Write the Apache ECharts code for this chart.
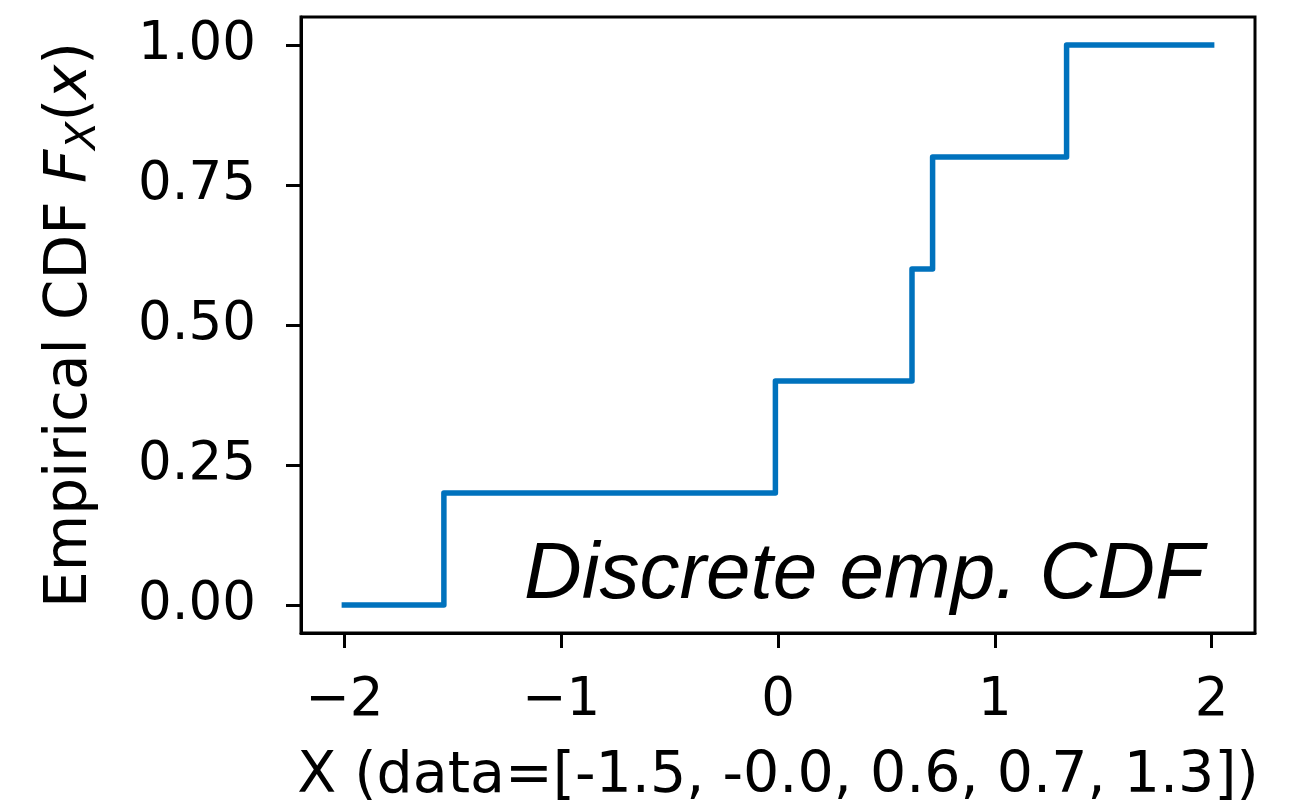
<!DOCTYPE html>
<html>
<head>
<meta charset="utf-8">
<style>
  html, body { margin: 0; padding: 0; background: #fff; }
  #chart { width: 1296px; height: 811px; }
</style>
<script src="https://cdn.jsdelivr.net/npm/echarts@6/dist/echarts.min.js"></script>
</head>
<body>
<div id="chart"></div>
<script>
// Sample points (sorted) and the cumulative fraction reached at each one
const samples = [-1.541, -0.012, 0.618, 0.713, 1.331];
const cdfLevels = [0.2, 0.4, 0.6, 0.8, 1.0];
// Range the step curve is drawn over
const xStart = -2;
const xEnd = 2;
const xTicks = [-2, -1, 0, 1, 2];
const yTicks = [0, 0.25, 0.5, 0.75, 1.0];
const xLabelText = 'X (data=[-1.5, -0.0, 0.6, 0.7, 1.3])';
const noteText = 'Discrete emp. CDF';

// Step points: start at 0, jump at each sample, hold the last level to the end
const stepData = [[xStart, 0]];
samples.forEach((s, i) => stepData.push([s, cdfLevels[i]]));
stepData.push([xEnd, cdfLevels[cdfLevels.length - 1]]);

const FONT = 'DejaVu Sans';
const chart = echarts.init(document.getElementById('chart'), null, { renderer: 'canvas' });

chart.setOption({
  animation: false,
  backgroundColor: '#ffffff',
  grid: {
    left: 301, top: 17, right: 41, bottom: 177,
    show: true, borderColor: '#000', borderWidth: 3, backgroundColor: 'transparent'
  },
  xAxis: {
    type: 'value', min: -2.2, max: 2.2,
    axisLine: { onZero: false, lineStyle: { color: '#000', width: 3 } },
    axisTick: { customValues: xTicks, length: 15, lineStyle: { color: '#000', width: 3 } },
    axisLabel: {
      customValues: xTicks, margin: 42, color: '#000', fontFamily: FONT, fontSize: 53,
      formatter: v => String(v).replace('-', '\u2212')
    },
    splitLine: { show: false },
    name: xLabelText, nameLocation: 'middle', nameGap: 116,
    nameTextStyle: { color: '#000', fontFamily: FONT, fontSize: 57 }
  },
  yAxis: {
    type: 'value', min: -0.05, max: 1.05,
    axisLine: { onZero: false, lineStyle: { color: '#000', width: 3 } },
    axisTick: { customValues: yTicks, length: 15, lineStyle: { color: '#000', width: 3 } },
    axisLabel: {
      customValues: yTicks, margin: 45, color: '#000', fontFamily: FONT, fontSize: 53,
      formatter: v => v.toFixed(2)
    },
    splitLine: { show: false },
    name: '{a|Empirical CDF }{i|F}{s|X}{a|(}{i|x}{a|)}',
    nameLocation: 'middle', nameGap: 196, nameRotate: 90,
    nameTextStyle: {
      color: '#000', fontFamily: FONT, fontSize: 58,
      rich: {
        a: { fontFamily: FONT, fontSize: 58, color: '#000', lineHeight: 68 },
        i: { fontFamily: FONT, fontSize: 58, fontStyle: 'italic', color: '#000', lineHeight: 68 },
        s: { fontFamily: FONT, fontSize: 41, fontStyle: 'italic', color: '#000', lineHeight: 41, verticalAlign: 'bottom' }
      }
    }
  },
  series: [{
    type: 'line',
    step: 'end',
    data: stepData,
    showSymbol: false,
    lineStyle: { color: '#0072BD', width: 5.5, cap: 'square', join: 'round' }
  }],
  graphic: [{
    type: 'text',
    right: 1296 - 1204,
    top: 536,
    style: {
      text: noteText,
      fontFamily: 'Liberation Sans', fontStyle: 'italic', fontSize: 80,
      fill: '#000'
    }
  }]
});
</script>
</body>
</html>
